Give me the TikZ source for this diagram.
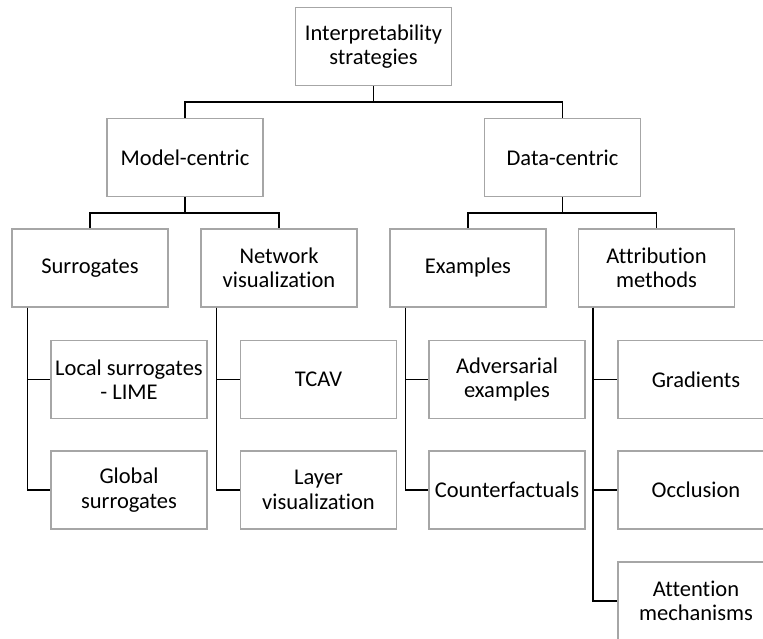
\documentclass[tikz,border=0pt]{standalone}
\usepackage{fontspec}
\setmainfont[Ligatures=NoCommon]{Carlito}
\begin{document}
\begin{tikzpicture}[x=1pt,y=-1pt,
    box/.style={draw=black!35,line width=1.1pt,fill=white,minimum width=156pt,minimum height=78pt,
                align=center,inner sep=0pt,font=\fontsize{22.5}{24.5}\selectfont},
    link/.style={draw=black,line width=1.6pt}]
            \clip (0,0) rectangle (763,639);

            \node[box] (root) at (373.5,46.5) {Interpretability\\strategies};

            \node[box] (model) at (185,157.5) {Model-centric};
            \node[box] (data) at (562.5,157.5) {Data-centric};

            \node[box] (surr) at (90,268) {Surrogates};
            \node[box] (netvis) at (279,268) {Network\\visualization};
            \node[box] (examples) at (468,268) {Examples};
            \node[box] (attrib) at (656.5,268) {Attribution\\methods};

            \node[box] (local) at (129,379.5) {Local surrogates\\- LIME};
            \node[box] (global) at (129,490) {Global\\surrogates};
            \node[box] (tcav) at (318.5,379.5) {TCAV};
            \node[box] (layer) at (318.5,490) {Layer\\visualization};
            \node[box] (advers) at (507,379.5) {Adversarial\\examples};
            \node[box] (counter) at (507,490) {Counterfactuals};
            \node[box] (grad) at (696,379.5) {Gradients};
            \node[box] (occl) at (696,490) {Occlusion};
            \node[box] (attn) at (696,601) {Attention\\mechanisms};

            \draw[link] (root.south) -- ++(0,16) -| (model.north);
            \draw[link] (root.south) -- ++(0,16) -| (data.north);
            \draw[link] (model.south) -- ++(0,16) -| (surr.north);
            \draw[link] (model.south) -- ++(0,16) -| (netvis.north);
            \draw[link] (data.south) -- ++(0,16) -| (examples.north);
            \draw[link] (data.south) -- ++(0,16) -| (attrib.north);

            \draw[link] ([xshift=16pt]surr.south west) |- (local.west);
            \draw[link] ([xshift=16pt]surr.south west) |- (global.west);
            \draw[link] ([xshift=16pt]netvis.south west) |- (tcav.west);
            \draw[link] ([xshift=16pt]netvis.south west) |- (layer.west);
            \draw[link] ([xshift=16pt]examples.south west) |- (advers.west);
            \draw[link] ([xshift=16pt]examples.south west) |- (counter.west);
            \draw[link] ([xshift=15pt]attrib.south west) |- (grad.west);
            \draw[link] ([xshift=15pt]attrib.south west) |- (occl.west);
            \draw[link] ([xshift=15pt]attrib.south west) |- (attn.west);
        \end{tikzpicture}
\end{document}
